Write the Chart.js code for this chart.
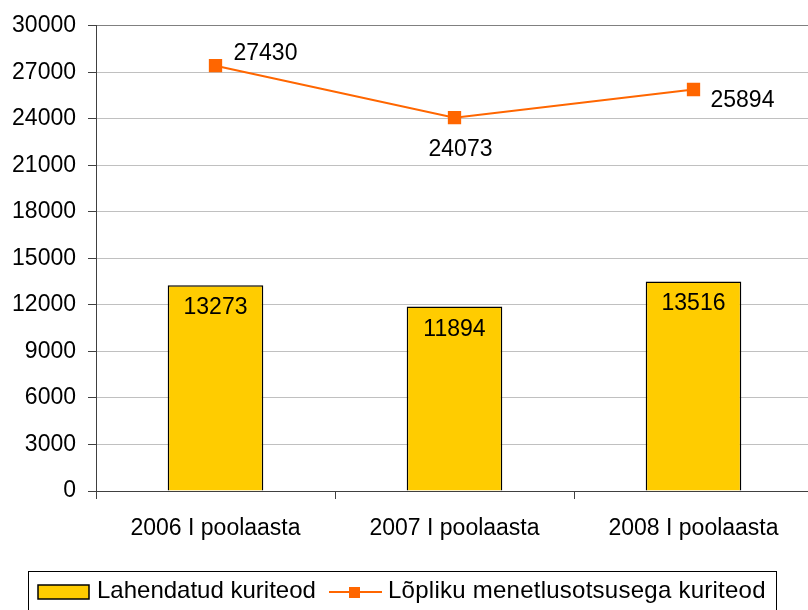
<!DOCTYPE html>
<html>
<head>
<meta charset="utf-8">
<script src="https://cdn.jsdelivr.net/npm/chart.js@4.4.1/dist/chart.umd.min.js"></script>
<style>
  html, body { margin: 0; padding: 0; background: #fff; overflow: hidden; }
  #wrap { width: 808px; height: 610px; overflow: hidden; position: relative; }
  #c { position: absolute; left: 0; top: 0; }
</style>
</head>
<body>
<div id="wrap"><canvas id="c" width="823" height="610"></canvas></div>
<script>
const categories = ['2006 I poolaasta', '2007 I poolaasta', '2008 I poolaasta'];
const seriesNames = ['Lahendatud kuriteod', 'Lõpliku menetlusotsusega kuriteod'];
const solvedValues = [13273, 11894, 13516];
const finalDecisionValues = [27430, 24073, 25894];
const yTicks = [0, 3000, 6000, 9000, 12000, 15000, 18000, 21000, 24000, 27000, 30000];

const FONT = "'Liberation Sans', Arial, sans-serif";
const ORANGE = '#FF6600';
const YELLOW = '#FFCC00';

// label placement offsets for line labels (px relative to point): [dx, dy, align]
const lineLabelOffsets = [[18, -6, 'left'], [6, 38, 'center'], [17, 18, 'left']];

const labelPlugin = {
  id: 'valueLabels',
  afterDatasetsDraw(chart) {
    const ctx = chart.ctx;
    ctx.save();
    ctx.font = '23px ' + FONT;
    ctx.fillStyle = '#000';
    ctx.textBaseline = 'alphabetic';
    const barMeta = chart.getDatasetMeta(0);
    barMeta.data.forEach((el, i) => {
      ctx.textAlign = 'center';
      ctx.fillText(String(solvedValues[i]), el.x, el.y + 29);
    });
    const lineMeta = chart.getDatasetMeta(1);
    lineMeta.data.forEach((el, i) => {
      const o = lineLabelOffsets[i];
      ctx.textAlign = o[2];
      ctx.fillText(String(finalDecisionValues[i]), el.x + o[0], el.y + o[1]);
    });
    ctx.restore();
  }
};

const legendPlugin = {
  id: 'boxLegend',
  afterDraw(chart) {
    const ctx = chart.ctx;
    ctx.save();
    ctx.strokeStyle = '#000';
    ctx.lineWidth = 1;
    ctx.strokeRect(28.5, 571.5, 748, 60);
    ctx.fillStyle = YELLOW;
    ctx.fillRect(38, 585, 51, 14);
    ctx.lineWidth = 1.5;
    ctx.strokeRect(38, 585, 51, 14);
    ctx.font = '24px ' + FONT;
    ctx.fillStyle = '#000';
    ctx.textAlign = 'left';
    ctx.textBaseline = 'alphabetic';
    ctx.fillText(seriesNames[0], 97, 598);
    ctx.strokeStyle = ORANGE;
    ctx.lineWidth = 2;
    ctx.beginPath();
    ctx.moveTo(329, 592);
    ctx.lineTo(382, 592);
    ctx.stroke();
    ctx.fillStyle = ORANGE;
    ctx.fillRect(349, 587, 11, 11);
    ctx.fillStyle = '#000';
    if ('letterSpacing' in ctx) ctx.letterSpacing = '0.25px';
    ctx.fillText(seriesNames[1], 388, 598);
    ctx.restore();
  }
};

new Chart(document.getElementById('c'), {
  type: 'bar',
  data: {
    labels: categories,
    datasets: [
      {
        type: 'bar',
        label: seriesNames[0],
        data: solvedValues,
        backgroundColor: YELLOW,
        borderColor: '#000',
        borderWidth: 1.5,
        barPercentage: 0.4,
        categoryPercentage: 1.0,
        order: 2
      },
      {
        type: 'line',
        label: seriesNames[1],
        data: finalDecisionValues,
        borderColor: ORANGE,
        backgroundColor: ORANGE,
        borderWidth: 2,
        pointStyle: 'rect',
        pointRadius: 8,
        pointHoverRadius: 8,
        tension: 0,
        fill: false,
        order: 1
      }
    ]
  },
  options: {
    responsive: false,
    animation: false,
    devicePixelRatio: 1,
    layout: { padding: { top: 24, bottom: 59, left: 0, right: 0 } },
    plugins: {
      legend: { display: false },
      tooltip: { enabled: false },
      title: { display: false }
    },
    scales: {
      x: {
        offset: true,
        afterFit(scale) { scale.height = 60; },
        grid: {
          display: true,
          drawOnChartArea: false,
          offset: true,
          tickLength: 8,
          color: '#404040',
          lineWidth: 1
        },
        border: { display: true, color: '#404040', width: 1 },
        ticks: {
          color: '#000',
          font: { family: FONT, size: 23 },
          padding: 16,
          maxRotation: 0
        }
      },
      y: {
        min: 0,
        max: 30000,
        afterFit(scale) { scale.width = 96; },
        afterBuildTicks(scale) { scale.ticks = yTicks.map(v => ({ value: v })); },
        grid: {
          color: (c) => (c.tick && c.tick.value === 30000) ? '#808080' : '#c0c0c0',
          tickColor: '#404040',
          tickLength: 8,
          lineWidth: 1
        },
        border: { display: true, color: '#404040', width: 1 },
        ticks: {
          color: '#000',
          font: { family: FONT, size: 23 },
          padding: 12,
          callback: (v) => String(v)
        }
      }
    }
  },
  plugins: [labelPlugin, legendPlugin]
});
</script>
</body>
</html>
